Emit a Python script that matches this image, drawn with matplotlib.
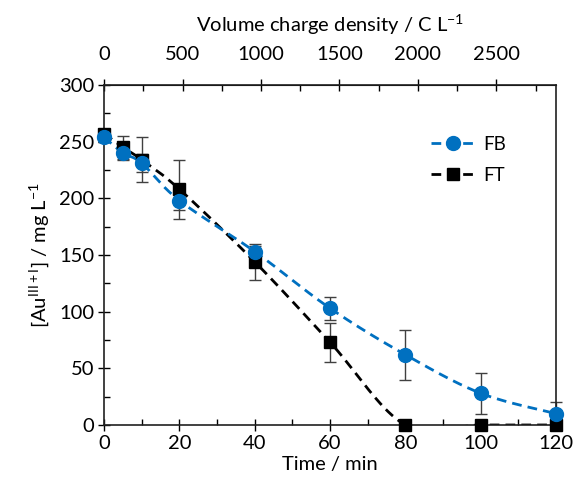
import matplotlib
matplotlib.use("Agg")
import matplotlib.pyplot as plt
from matplotlib.ticker import MultipleLocator, FixedLocator
import numpy as np

plt.rcParams['font.family'] = ['Lato', 'DejaVu Sans']
plt.rcParams['mathtext.fontset'] = 'custom'
plt.rcParams['mathtext.rm'] = 'Lato'
plt.rcParams['mathtext.it'] = 'Lato'

# data
time_min = [0, 5, 10, 20, 40, 60, 80, 100, 120]
fb_conc = [254, 240, 231, 198, 153, 103, 62, 28, 10]
fb_err = [4, 6, 8, 8, 5, 10, 22, 18, 10]
ft_conc = [257, 245, 234, 208, 144, 73, 0, 0, 0]
ft_err = [3, 10, 20, 26, 16, 17, 0, 0, 0]
charge_per_min = 24  # C L-1 per min for top axis
top_ticks = [0, 500, 1000, 1500, 2000, 2500]


def excel_smooth(x, y, n=40):
    # Excel style smoothed line (Bezier with catmull-rom like tangents)
    x = np.asarray(x, float)
    y = np.asarray(y, float)
    xs, ys = [], []
    for i in range(len(x) - 1):
        i0 = max(i - 1, 0)
        i3 = min(i + 2, len(x) - 1)
        p1 = np.array([x[i], y[i]])
        p2 = np.array([x[i + 1], y[i + 1]])
        p0 = np.array([x[i0], y[i0]])
        p3 = np.array([x[i3], y[i3]])
        c1 = p1 + (p2 - p0) / 6
        c2 = p2 - (p3 - p1) / 6
        t = np.linspace(0, 1, n)[:, None]
        pts = ((1 - t) ** 3) * p1 + 3 * ((1 - t) ** 2) * t * c1 + 3 * (1 - t) * t ** 2 * c2 + t ** 3 * p2
        xs.extend(pts[:, 0])
        ys.extend(pts[:, 1])
    return xs, ys


blue = '#0070C0'
fs = 14.5
fig = plt.figure(figsize=(5.75, 4.94), dpi=100)
ax = fig.add_axes([0.181, 0.1397, 0.786, 0.6883])

# FT
sx, sy = excel_smooth(time_min, ft_conc)
ax.plot(sx, sy, color='black', lw=2.0, dashes=(3.5, 2.2), zorder=2)
ax.errorbar(time_min, ft_conc, yerr=ft_err, fmt='none', ecolor='#404040',
            elinewidth=1.0, capsize=4, capthick=1.0, zorder=1, clip_on=False)
ax.plot(time_min, ft_conc, ls='none', marker='s', ms=9, color='black',
        zorder=3, clip_on=False)

# FB
sx, sy = excel_smooth(time_min, fb_conc)
ax.plot(sx, sy, color=blue, lw=2.0, dashes=(3.5, 2.2), zorder=2)
ax.errorbar(time_min, fb_conc, yerr=fb_err, fmt='none', ecolor='#404040',
            elinewidth=1.0, capsize=4, capthick=1.0, zorder=1, clip_on=False)
ax.plot(time_min, fb_conc, ls='none', marker='o', ms=10, color=blue,
        zorder=4, clip_on=False)

# legend handles
h_fb, = ax.plot([], [], color=blue, lw=2.0, dashes=(3.5, 2.2), marker='o', ms=10)
h_ft, = ax.plot([], [], color='black', lw=2.0, dashes=(3.5, 2.2), marker='s', ms=9)
ax.legend([h_fb, h_ft], ['FB', 'FT'], loc='upper left', bbox_to_anchor=(0.685, 0.9),
          frameon=False, fontsize=fs - 1, handlelength=2.4, labelspacing=0.75,
          handletextpad=0.4)

ax.set_xlim(0, 120)
ax.set_ylim(0, 300)
ax.xaxis.set_major_locator(MultipleLocator(20))
ax.xaxis.set_minor_locator(MultipleLocator(10))
ax.yaxis.set_major_locator(MultipleLocator(50))
ax.yaxis.set_minor_locator(MultipleLocator(25))
ax.tick_params(which='major', direction='inout', length=8, width=1.0, labelsize=fs,
               top=False, right=False, pad=3)
ax.tick_params(which='minor', direction='in', length=4, width=1.0, top=False, right=False)
for s in ax.spines.values():
    s.set_linewidth(1.2)
    s.set_color('#202020')

ax.set_xlabel('Time / min', fontsize=fs, labelpad=3)
ax.set_ylabel('[Au$^{\\mathregular{III+I}}$] / mg L$^{\\mathregular{-1}}$', fontsize=fs, labelpad=6)

top = ax.secondary_xaxis('top', functions=(lambda x: x * charge_per_min,
                                           lambda x: x / charge_per_min))
top.xaxis.set_major_locator(FixedLocator(top_ticks))
top.xaxis.set_minor_locator(MultipleLocator(250))
top.tick_params(which='major', direction='inout', length=8, width=1.0, labelsize=fs, pad=12)
top.tick_params(which='minor', direction='in', length=4, width=1.0)
top.set_xlabel('Volume charge density / C L$^{\\mathregular{-1}}$', fontsize=fs, labelpad=10)

fig.savefig('out.png', dpi=100)
